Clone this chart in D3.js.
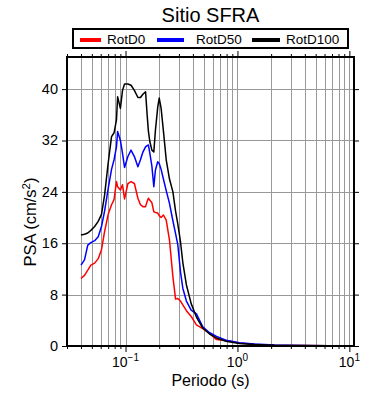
<!DOCTYPE html>
<html><head><meta charset="utf-8">
<script src="https://cdn.jsdelivr.net/npm/d3@7"></script>
<style>body{margin:0;background:#fff}svg{display:block;font-family:"Liberation Sans",Arial,sans-serif}</style>
</head><body><svg id="c" width="390" height="400"></svg>
<script>
const title = "Sitio SFRA";
const seriesNames = ["RotD0", "RotD50", "RotD100"];
const seriesColors = ["#ff0000", "#0000ff", "#000000"];
const periods = [0.040,0.043,0.046,0.049,0.053,0.057,0.061,0.065,0.070,0.075,0.079,0.083,0.085,0.090,0.094,0.098,0.105,0.112,0.120,0.129,0.136,0.143,0.151,0.156,0.160,0.165,0.172,0.179,0.185,0.194,0.200,0.208,0.218,0.231,0.247,0.265,0.280,0.293,0.310,0.325,0.350,0.386,0.430,0.490,0.560,0.650,0.790,1.04,1.42,2.14,3.58,6.63,10.0];
const rotD0 = [10.5,11.0,11.8,12.6,12.9,13.6,15.0,17.8,20.5,22.0,22.8,25.6,24.8,24.3,25.1,22.9,25.3,25.6,25.3,23.0,22.0,21.7,21.7,22.5,23.0,22.7,22.3,20.9,20.8,20.7,20.3,20.0,20.4,19.6,16.5,10.8,7.3,7.4,7.0,6.4,5.5,4.6,3.3,2.7,2.0,1.0,0.85,0.45,0.25,0.12,0.06,0.03,0.02];
const rotD50 = [12.6,13.4,15.7,16.1,16.4,17.0,18.6,21.0,24.5,27.5,29.0,31.0,33.4,32.0,30.0,27.8,29.5,30.5,29.5,27.9,29.0,30.2,31.0,31.2,31.3,30.0,28.0,24.8,27.4,28.7,28.4,27.5,26.0,24.2,22.2,19.5,17.5,15.8,11.5,9.0,7.0,5.6,5.0,3.0,2.1,1.5,0.9,0.5,0.3,0.15,0.08,0.04,0.03];
const rotD100 = [17.3,17.4,17.6,18.0,18.6,19.4,20.5,23.5,28.5,32.6,33.2,35.2,38.8,37.0,39.8,40.8,40.8,40.6,39.8,38.7,38.7,39.2,39.6,36.0,33.5,31.8,30.5,30.2,33.6,37.2,38.6,37.0,33.5,29.0,26.0,24.0,21.0,19.0,16.2,13.0,9.5,6.6,4.5,2.8,1.9,1.25,0.75,0.4,0.25,0.12,0.06,0.03,0.02];
const yTicks = [0, 8, 16, 24, 32, 40];
const xMajor = [0.1, 1, 10];
const xMajorExp = ["\u22121", "0", "1"];
const xMinor = [0.03,0.04,0.05,0.06,0.07,0.08,0.09,0.2,0.3,0.4,0.5,0.6,0.7,0.8,0.9,2,3,4,5,6,7,8,9];
const xLabel = "Periodo (s)";

const svg = d3.select("#c");
const L = 67, R = 354, T = 57, B = 346;
const x = d3.scaleLog().domain([0.03, 11]).range([L, R]);
const y = d3.scaleLinear().domain([0, 45]).range([B, T]);

// grid
const g = svg.append("g").attr("stroke", "#999").attr("stroke-width", 1);
xMinor.concat(xMajor).forEach(v => {
  const px = Math.round(x(v)) + 0.5;
  g.append("line").attr("x1", px).attr("x2", px).attr("y1", T).attr("y2", B);
});
yTicks.forEach(v => {
  const py = Math.round(y(v)) + 0.5;
  g.append("line").attr("x1", L).attr("x2", R).attr("y1", py).attr("y2", py);
});

// series
const allSeries = [rotD0, rotD50, rotD100];
const line = d3.line().x((d, i) => x(periods[i])).y(d => y(d));
allSeries.forEach((s, k) => {
  svg.append("path").datum(s).attr("d", line).attr("fill", "none")
    .attr("stroke", seriesColors[k]).attr("stroke-width", 1.5).attr("stroke-linejoin", "round");
});

// axes (ticks on all sides, outward)
function ax(axisFn, scale, tv, size, tf) {
  return axisFn(scale).tickValues(tv).tickSize(size).tickFormat(tf || (() => ""));
}
const axes = svg.append("g");
axes.append("g").attr("transform", `translate(0,${B})`).call(ax(d3.axisBottom, x, xMinor, 3));
axes.append("g").attr("transform", `translate(0,${B})`).call(ax(d3.axisBottom, x, xMajor, 6));
axes.append("g").attr("transform", `translate(0,${T})`).call(ax(d3.axisTop, x, xMinor, 3));
axes.append("g").attr("transform", `translate(0,${T})`).call(ax(d3.axisTop, x, xMajor, 6));
axes.append("g").attr("transform", `translate(${L},0)`).call(ax(d3.axisLeft, y, yTicks, 5));
axes.append("g").attr("transform", `translate(${R},0)`).call(ax(d3.axisRight, y, yTicks, 5));
axes.selectAll(".domain").remove();
axes.selectAll(".tick line").attr("stroke", "#000").attr("stroke-width", 1);

// frame
svg.append("rect").attr("x", L).attr("y", T).attr("width", R - L).attr("height", B - T)
  .attr("fill", "none").attr("stroke", "#000").attr("stroke-width", 2);

// y tick labels
svg.append("g").selectAll("text").data(yTicks).join("text")
  .attr("x", L - 9).attr("y", d => y(d) + 5).attr("text-anchor", "end")
  .attr("font-size", 14.5).text(d => d);

// x tick labels
xMajor.forEach((v, i) => {
  const t = svg.append("text").attr("x", x(v)).attr("y", 367).attr("text-anchor", "middle").attr("font-size", 14);
  t.append("tspan").text("10");
  t.append("tspan").attr("dy", -6).attr("font-size", 10).text(xMajorExp[i]);
});

// axis titles
svg.append("text").attr("x", (L + R) / 2).attr("y", 386).attr("text-anchor", "middle")
  .attr("font-size", 16).text(xLabel);
const yl = svg.append("text").attr("transform", "translate(36,222) rotate(-90)")
  .attr("text-anchor", "middle").attr("font-size", 16.5);
yl.append("tspan").text("PSA (cm/s");
yl.append("tspan").attr("dy", -6).attr("font-size", 11.5).text("2");
yl.append("tspan").attr("dy", 6).text(")");

// title
svg.append("text").attr("x", (L + R) / 2).attr("y", 22).attr("text-anchor", "middle")
  .attr("font-size", 20).text(title);

// legend
svg.append("rect").attr("x", 73).attr("y", 29).attr("width", 275).attr("height", 19)
  .attr("fill", "#fff").attr("stroke", "#000").attr("stroke-width", 2);
const legX = [[80, 101, 107], [157, 184, 196], [252, 280, 286]];
seriesNames.forEach((n, k) => {
  svg.append("line").attr("x1", legX[k][0]).attr("x2", legX[k][1]).attr("y1", 40).attr("y2", 40)
    .attr("stroke", seriesColors[k]).attr("stroke-width", 4);
  svg.append("text").attr("x", legX[k][2]).attr("y", 44).attr("font-size", 13.5).text(n);
});
</script></body></html>
